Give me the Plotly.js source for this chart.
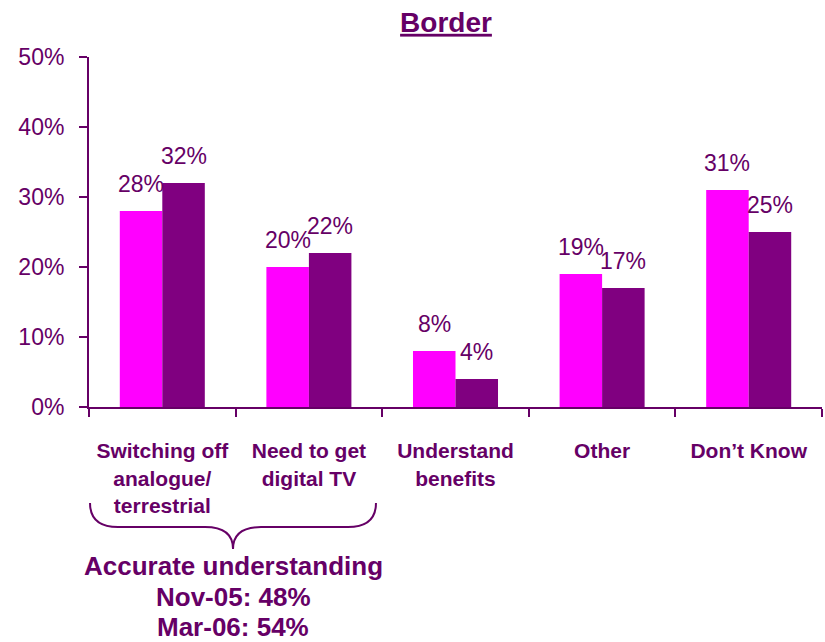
<!DOCTYPE html>
<html>
<head>
<meta charset="utf-8">
<script src="https://cdn.plot.ly/plotly-3.0.1.min.js"></script>
<style>html,body{margin:0;padding:0;background:#fff}#chart{width:825px;height:642px}</style>
</head>
<body>
<div id="chart"></div>
<script>
// ---- data ----
var categories = [
  "Switching off<br>analogue/<br>terrestrial",
  "Need to get<br>digital TV",
  "Understand<br>benefits",
  "Other",
  "Don\u2019t Know"
];
var seriesNames = ["Nov-05", "Mar-06"];
var nov05 = [28, 20, 8, 19, 31];
var mar06 = [32, 22, 4, 17, 25];
var yTickVals = [0, 10, 20, 30, 40, 50];
var yTickText = ["0%", "10%", "20%", "30%", "40%", "50%"];
var chartTitle = "Border";
var noteLines = ["Accurate understanding", "Nov-05: 48%", "Mar-06: 54%"];

// ---- style ----
var txt = "#660066";
var pink = "#FF00FF";
var purple = "#800080";
var font = "Liberation Sans, Arial, sans-serif";

var W = 825, H = 642;
var mL = 89, mR = 3, mT = 57, mB = 235;
var plotW = W - mL - mR, plotH = H - mT - mB;
function px2x(px){ return (px - mL) / plotW; }
function py2y(py){ return (H - mB - py) / plotH; }

var traces = [
  {type: "bar", name: seriesNames[0], x: categories, y: nov05, marker: {color: pink}, hoverinfo: "none"},
  {type: "bar", name: seriesNames[1], x: categories, y: mar06, marker: {color: purple}, hoverinfo: "none"}
];

var bargap = 0.42;
var catPx = plotW / categories.length;
var barPx = catPx * (1 - bargap) / 2;

var annotations = [];
[nov05, mar06].forEach(function(arr, si){
  arr.forEach(function(v, i){
    annotations.push({
      x: categories[i], y: v, xref: "x", yref: "y",
      text: v + "%", showarrow: false,
      xshift: (si === 0 ? -1 : 1) * barPx / 2,
      yshift: 27, yanchor: "middle", xanchor: "center",
      font: {family: font, size: 23, color: txt}
    });
  });
});
var noteY = [566, 597, 627];
noteLines.forEach(function(line, i){
  annotations.push({
    xref: "paper", yref: "paper",
    x: px2x(233), y: py2y(noteY[i]), xanchor: "center", yanchor: "middle",
    text: "<b>" + line + "</b>",
    showarrow: false, align: "center",
    font: {family: font, size: 26, color: txt}
  });
});

// curly brace path (paper coords)
function P(x, y){ return px2x(x).toFixed(4) + "," + py2y(y).toFixed(4); }
var bracePath =
  "M" + P(90,503) + " Q" + P(90,527) + " " + P(118,527) +
  " L" + P(205,527) + " Q" + P(233,527) + " " + P(233,549) +
  " Q" + P(233,527) + " " + P(261,527) +
  " L" + P(348,527) + " Q" + P(376,527) + " " + P(376,503);

var layout = {
  width: W, height: H,
  margin: {l: mL, r: mR, t: mT, b: mB, pad: 0},
  paper_bgcolor: "#fff", plot_bgcolor: "#fff",
  showlegend: false,
  barmode: "group", bargap: bargap, bargroupgap: 0,
  title: {
    text: "<b><u>" + chartTitle + "</u></b>",
    x: 446 / W, xanchor: "center", xref: "container",
    y: 1 - 22 / H, yanchor: "middle", yref: "container",
    font: {family: font, size: 28, color: txt}
  },
  xaxis: {
    type: "category", range: [-0.5, 4.5], fixedrange: true,
    showline: true, linecolor: txt, linewidth: 2,
    ticks: "outside", tickson: "boundaries", ticklen: 8, tickcolor: txt, tickwidth: 2,
    showgrid: false, zeroline: false,
    ticklabelstandoff: 24,
    tickfont: {family: font, size: 21, color: txt, weight: "bold"}
  },
  yaxis: {
    range: [0, 50], fixedrange: true,
    tickvals: yTickVals, ticktext: yTickText,
    showline: true, linecolor: txt, linewidth: 2,
    ticks: "outside", ticklen: 8, tickcolor: txt, tickwidth: 2,
    showgrid: false, zeroline: false,
    ticklabelstandoff: 10,
    tickfont: {family: font, size: 23, color: txt}
  },
  annotations: annotations,
  shapes: [{
    type: "path", xref: "paper", yref: "paper",
    path: bracePath, line: {color: txt, width: 2}
  }]
};

Plotly.newPlot("chart", traces, layout, {displayModeBar: false, staticPlot: true});
</script>
</body>
</html>
